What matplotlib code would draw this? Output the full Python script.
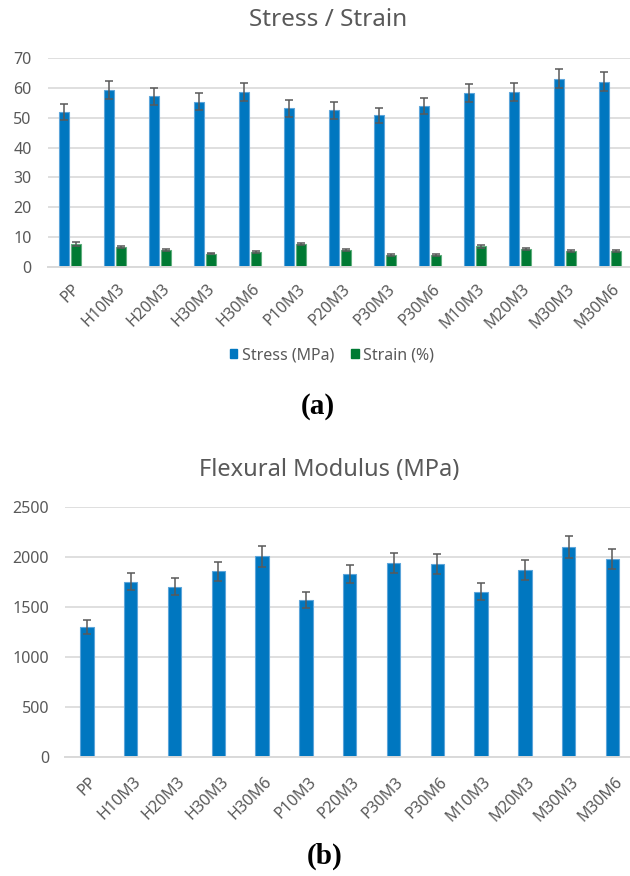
import matplotlib
matplotlib.use("Agg")
import matplotlib.pyplot as plt
from matplotlib.patches import Patch
from matplotlib.transforms import ScaledTranslation
import numpy as np

plt.rcParams["font.family"] = ["Noto Sans", "DejaVu Sans"]

# Sample labels
samples = ["PP", "H10M3", "H20M3", "H30M3", "H30M6", "P10M3", "P20M3",
           "P30M3", "P30M6", "M10M3", "M20M3", "M30M3", "M30M6"]

# Tensile stress (MPa) and its standard deviation
stress = [52.0, 59.3, 57.2, 55.4, 58.7, 53.2, 52.5, 50.8, 53.9, 58.3, 58.6, 63.1, 62.0]
stress_err = [2.7, 3.0, 2.8, 2.9, 3.0, 2.8, 2.8, 2.5, 2.8, 3.0, 3.1, 3.2, 3.2]

# Strain at break (%) and its standard deviation
strain = [7.8, 6.8, 5.6, 4.4, 5.1, 7.8, 5.7, 4.0, 4.1, 6.9, 6.1, 5.3, 5.4]
strain_err = [0.6, 0.4, 0.3, 0.2, 0.3, 0.4, 0.3, 0.3, 0.3, 0.4, 0.3, 0.3, 0.3]

# Flexural modulus (MPa) and its standard deviation
modulus = [1300, 1750, 1700, 1856, 2006, 1570, 1830, 1936, 1929, 1650, 1872, 2096, 1979]
modulus_err = [70, 85, 85, 95, 105, 80, 90, 100, 100, 85, 100, 110, 100]

BLUE = "#0077C0"
BLUE_EDGE = "#5DA5DA"
GREEN = "#007A33"
GREEN_EDGE = "#5FAE7C"
TEXT = "#595959"
GRID = "#D9D9D9"

W, H = 630, 876
fig = plt.figure(figsize=(W / 100, H / 100), dpi=100)


def px_axes(left, right, top, bottom):
    return fig.add_axes([left / W, 1 - bottom / H, (right - left) / W, (bottom - top) / H])


def style_axes(ax, ymax, step, xpad):
    ax.set_ylim(0, ymax)
    ax.set_yticks(np.arange(0, ymax + 1, step))
    ax.yaxis.grid(True, color=GRID, linewidth=1.2)
    ax.set_axisbelow(True)
    for side in ("top", "right", "left"):
        ax.spines[side].set_visible(False)
    ax.spines["bottom"].set_color(GRID)
    ax.spines["bottom"].set_linewidth(1.4)
    ax.tick_params(axis="both", length=0, colors=TEXT, labelsize=11.5)
    ax.tick_params(axis="y", pad=11.5)
    ax.set_xticks(np.arange(len(samples)))
    ax.set_xticklabels(samples, rotation=45, ha="right", va="top",
                       rotation_mode="anchor", color=TEXT)
    ax.tick_params(axis="x", pad=xpad)
    shift = ScaledTranslation(2 / 100, 0, fig.dpi_scale_trans)
    for lab in ax.get_xticklabels():
        lab.set_transform(lab.get_transform() + shift)


err_kw = dict(ecolor="#595959", elinewidth=1.1, capsize=3, capthick=1.1)
x = np.arange(len(samples))

# (a) Stress / Strain
ax1 = px_axes(47.5, 630, 58, 267)
ax1.bar(x - 0.14, stress, 0.23, yerr=stress_err, color=BLUE,
        edgecolor=BLUE_EDGE, linewidth=0.8, error_kw=err_kw)
ax1.bar(x + 0.14, strain, 0.23, yerr=strain_err, color=GREEN,
        edgecolor=GREEN_EDGE, linewidth=0.8, error_kw=err_kw)
ax1.set_xlim(-0.5, -0.5 + 582.5 / 45)
style_axes(ax1, 70, 10, 10)
fig.text(328 / W, 1 - 20 / H, "Stress / Strain", ha="center", va="center",
         fontsize=17.5, color=TEXT)

handles = [Patch(facecolor=BLUE, edgecolor=BLUE), Patch(facecolor=GREEN, edgecolor=GREEN)]
fig.legend(handles, ["Stress (MPa)", "Strain (%)"], loc="center",
           bbox_to_anchor=(332 / W, 1 - 355 / H), ncol=2, frameon=False,
           handlelength=0.45, handleheight=0.45, handletextpad=0.3,
           columnspacing=1.1, labelcolor=TEXT, fontsize=11.5)

fig.text(318 / W, 1 - 406 / H, "(a)", ha="center", va="center",
         fontsize=21, fontweight="bold", family="Liberation Serif")

# (b) Flexural modulus
ax2 = px_axes(65, 630, 506.7, 757.3)
ax2.bar(x, modulus, 0.31, yerr=modulus_err, color=BLUE,
        edgecolor=BLUE_EDGE, linewidth=0.8, error_kw=err_kw)
ax2.set_xlim(-0.5, -0.5 + 565 / 43.8)
style_axes(ax2, 2500, 500, 12)
fig.text(329 / W, 1 - 470 / H, "Flexural Modulus (MPa)", ha="center", va="center",
         fontsize=17, color=TEXT)

fig.text(325 / W, 1 - 856 / H, "(b)", ha="center", va="center",
         fontsize=21, fontweight="bold", family="Liberation Serif")

fig.savefig("out.png", dpi=100)
